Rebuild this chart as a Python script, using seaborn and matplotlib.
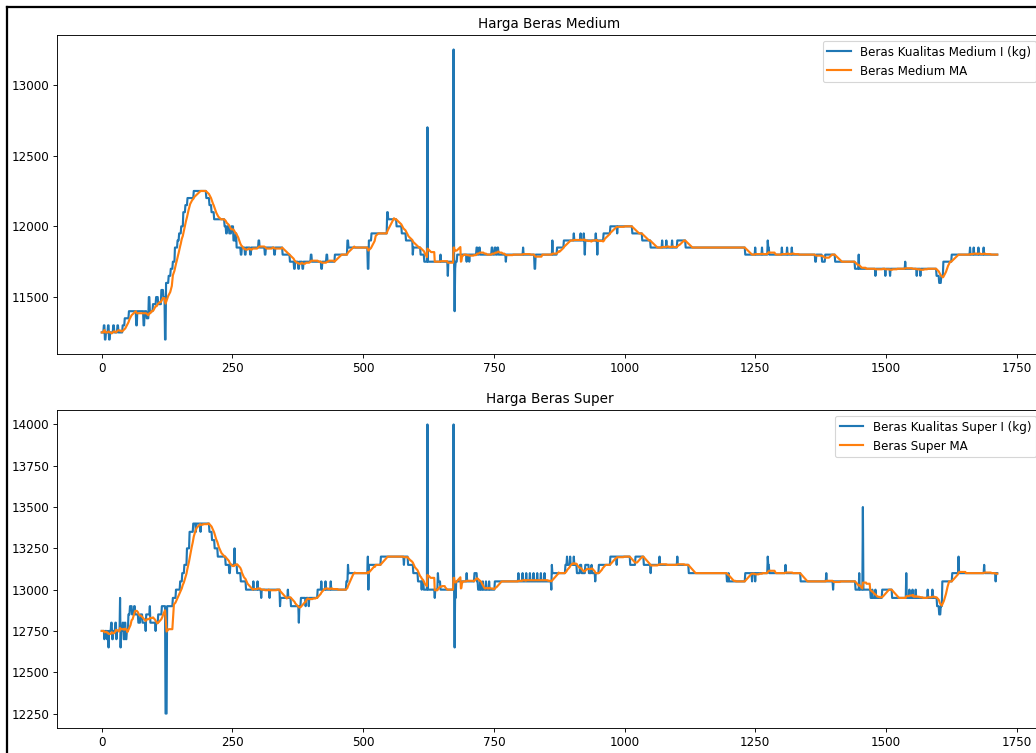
#rice price charts: raw daily price and moving average
import matplotlib
matplotlib.use("Agg")
import matplotlib.pyplot as plt
from matplotlib.lines import Line2D
import seaborn as sns
import numpy as np
import pandas as pd

n_days = 1714
ma_window = 14

#medium rice: index where a price level starts, and the price from there on
medium_start = [0, 4, 6, 8, 12, 14, 16, 22, 24, 30, 32, 40, 44, 52, 66, 68, 80, 82, 86, 90, 92, 98, 104, 108,
                114, 118, 121, 123, 128, 132, 136, 140, 145, 148, 152, 156, 160, 164, 176, 200, 206, 210, 215,
                235, 238, 240, 244, 248, 252, 256, 258, 266, 268, 274, 276, 284, 286, 300, 302, 312, 314, 330,
                332, 346, 360, 368, 370, 376, 378, 384, 386, 400, 402, 420, 422, 430, 432, 446, 470, 472, 509,
                511, 516, 546, 548, 564, 574, 582, 595, 596, 610, 617, 623, 624, 648, 649, 662, 663, 673, 674,
                675, 676, 677, 680, 698, 699, 703, 704, 717, 719, 722, 724, 746, 748, 752, 754, 757, 759, 773,
                774, 806, 807, 828, 830, 862, 863, 871, 884, 903, 904, 916, 917, 922, 923, 924, 925, 945, 946,
                948, 949, 960, 973, 986, 987, 1015, 1034, 1050, 1072, 1073, 1080, 1081, 1091, 1092, 1101, 1117,
                1231, 1250, 1251, 1263, 1264, 1274, 1275, 1277, 1301, 1302, 1311, 1312, 1320, 1321, 1365, 1367,
                1378, 1384, 1403, 1441, 1448, 1449, 1480, 1481, 1499, 1500, 1508, 1509, 1537, 1538, 1559, 1560,
                1566, 1567, 1597, 1602, 1606, 1610, 1626, 1661, 1662, 1668, 1669, 1677, 1678, 1687, 1688]
medium_price = [11250, 11300, 11200, 11250, 11300, 11200, 11250, 11300, 11250, 11300, 11250, 11300, 11350, 11400,
                11300, 11400, 11300, 11400, 11350, 11500, 11400, 11450, 11500, 11450, 11550, 11500, 11200, 11600,
                11650, 11700, 11750, 11850, 11900, 11950, 12000, 12100, 12150, 12200, 12250, 12200, 12150, 12100,
                12050, 12000, 11950, 12000, 11950, 12000, 11900, 11950, 11850, 11800, 11850, 11800, 11850, 11800,
                11850, 11900, 11850, 11800, 11850, 11800, 11850, 11800, 11750, 11700, 11750, 11700, 11750, 11700,
                11750, 11800, 11750, 11700, 11750, 11800, 11750, 11800, 11900, 11850, 11700, 11900, 11950, 12100,
                12050, 12000, 11950, 11900, 11800, 11850, 11800, 11750, 12700, 11750, 11800, 11750, 11650, 11750,
                13250, 11750, 11400, 11700, 11750, 11800, 11750, 11800, 11750, 11800, 11850, 11800, 11850, 11800,
                11850, 11800, 11850, 11800, 11850, 11800, 11750, 11800, 11850, 11800, 11700, 11800, 11900, 11800,
                11850, 11900, 11950, 11900, 11950, 11900, 11950, 11900, 11800, 11900, 11950, 11900, 11800, 11900,
                11950, 12000, 11950, 12000, 11950, 11900, 11850, 11900, 11850, 11900, 11850, 11900, 11850, 11900,
                11850, 11800, 11850, 11800, 11850, 11800, 11900, 11850, 11800, 11850, 11800, 11850, 11800, 11850,
                11800, 11750, 11800, 11750, 11800, 11750, 11700, 11800, 11700, 11650, 11700, 11650, 11700, 11650,
                11700, 11750, 11700, 11650, 11700, 11650, 11700, 11650, 11600, 11650, 11750, 11800, 11850, 11800,
                11850, 11800, 11850, 11800, 11850, 11800]

#super rice, same layout
super_start = [0, 5, 6, 10, 12, 13, 14, 18, 20, 22, 26, 28, 29, 35, 36, 37, 40, 42, 44, 46, 48, 51, 54, 58, 62, 64,
               70, 74, 78, 84, 85, 92, 93, 103, 104, 108, 115, 122, 125, 136, 142, 150, 154, 158, 163, 168, 175,
               180, 181, 189, 190, 206, 211, 216, 222, 237, 244, 246, 254, 255, 259, 266, 276, 290, 291, 298, 299,
               305, 306, 321, 322, 341, 342, 356, 357, 362, 377, 378, 381, 390, 391, 396, 397, 413, 420, 421, 428,
               429, 438, 439, 468, 471, 472, 509, 510, 511, 534, 578, 579, 586, 596, 605, 612, 613, 616, 623, 624,
               637, 638, 643, 644, 648, 673, 674, 675, 676, 677, 678, 698, 699, 713, 718, 720, 724, 725, 729, 730,
               735, 736, 741, 742, 752, 797, 798, 805, 806, 812, 813, 819, 820, 826, 827, 833, 834, 840, 841, 847,
               848, 860, 861, 862, 887, 890, 891, 896, 897, 903, 904, 909, 915, 918, 925, 932, 937, 938, 944, 945,
               951, 973, 985, 986, 1011, 1021, 1037, 1050, 1051, 1067, 1068, 1101, 1102, 1123, 1196, 1199, 1200,
               1231, 1244, 1245, 1250, 1251, 1274, 1275, 1277, 1308, 1309, 1337, 1386, 1387, 1399, 1400, 1442,
               1449, 1450, 1456, 1457, 1471, 1474, 1475, 1480, 1481, 1493, 1512, 1539, 1540, 1545, 1546, 1551,
               1552, 1557, 1558, 1580, 1581, 1589, 1590, 1598, 1602, 1605, 1608, 1627, 1639, 1640, 1688, 1689,
               1710, 1711]
super_price = [12750, 12700, 12750, 12700, 12750, 12650, 12750, 12800, 12700, 12750, 12800, 12700, 12750, 12950,
               12650, 12750, 12800, 12700, 12800, 12700, 12750, 12850, 12900, 12850, 12900, 12850, 12800, 12850,
               12800, 12750, 12850, 12900, 12800, 12750, 12800, 12850, 12900, 12250, 12900, 12950, 13000, 13050,
               13100, 13150, 13250, 13350, 13400, 13350, 13400, 13350, 13400, 13350, 13300, 13250, 13200, 13150,
               13100, 13150, 13250, 13150, 13100, 13050, 13000, 13050, 13000, 13050, 13000, 12950, 13000, 12950,
               13000, 12900, 12950, 13000, 12950, 12900, 12800, 12900, 12950, 12900, 12950, 12900, 12950, 13000,
               13050, 13000, 13050, 13000, 13050, 13000, 13050, 13150, 13100, 13200, 13000, 13150, 13200, 13150,
               13200, 13150, 13100, 13050, 13000, 13050, 13000, 14000, 13000, 12950, 13000, 13100, 13050, 13000,
               14000, 13000, 12650, 13000, 12950, 13050, 13100, 13050, 13100, 13050, 13000, 13050, 13000, 13050,
               13000, 13050, 13000, 13050, 13000, 13050, 13100, 13050, 13100, 13050, 13100, 13050, 13100, 13050,
               13100, 13050, 13100, 13050, 13100, 13050, 13100, 13050, 13000, 13150, 13100, 13150, 13200, 13150,
               13200, 13150, 13200, 13150, 13100, 13150, 13100, 13150, 13100, 13150, 13100, 13050, 13100, 13150,
               13200, 13150, 13200, 13150, 13200, 13150, 13100, 13150, 13200, 13150, 13200, 13150, 13100, 13050,
               13100, 13050, 13100, 13050, 13100, 13050, 13100, 13200, 13150, 13100, 13150, 13100, 13050, 13100,
               13050, 13000, 13050, 13000, 13100, 13000, 13500, 13000, 12950, 13000, 12950, 13000, 12950, 13000,
               12950, 13100, 12950, 13000, 12950, 13000, 12950, 13000, 12950, 13000, 12950, 13000, 12950, 12900,
               12850, 12900, 13050, 13100, 13200, 13100, 13150, 13100, 13050, 13100]

panels = [("Harga Beras Medium", "Beras Kualitas Medium I (kg)", "Beras Medium MA", medium_start, medium_price),
          ("Harga Beras Super", "Beras Kualitas Super I (kg)", "Beras Super MA", super_start, super_price)]


def expand_steps(starts, prices, n):
    """Turns (start index, price) pairs into one price per day."""
    out = np.empty(n)
    ends = list(starts[1:]) + [n]
    for s, e, p in zip(starts, ends, prices):
        out[s:e] = p
    return out


plt.rcParams["xtick.labelsize"] = 10.5
plt.rcParams["ytick.labelsize"] = 10.5
plt.rcParams["legend.fontsize"] = 10.5

fig = plt.figure(figsize=(1036 / 81, 753 / 81), dpi=81)
axes_boxes = [[57 / 1036, 1 - 354 / 753, 985 / 1036, 319 / 753],
              [57 / 1036, 1 - 728 / 753, 985 / 1036, 318 / 753]]

for box, (title, raw_label, ma_label, starts, prices) in zip(axes_boxes, panels):
    ax = fig.add_axes(box)
    df = pd.DataFrame({"day": np.arange(n_days), "price": expand_steps(starts, prices, n_days)})
    #moving average of the daily price
    df["ma"] = df["price"].rolling(ma_window, min_periods=1).mean()
    sns.lineplot(data=df, x="day", y="price", ax=ax, color="C0", lw=1.9, label=raw_label)
    sns.lineplot(data=df, x="day", y="ma", ax=ax, color="C1", lw=1.9, label=ma_label)
    ax.set_title(title, fontsize=12)
    ax.set_xlabel("")
    ax.set_ylabel("")
    ax.set_xticks(np.arange(0, 1751, 250))
    ax.legend(loc="upper right")

#black screenshot frame on the left and top edge
fig.add_artist(Line2D([7 / 1036, 7 / 1036], [0, 1 - 7 / 753], transform=fig.transFigure, color="black", lw=2))
fig.add_artist(Line2D([7 / 1036, 1], [1 - 7 / 753, 1 - 7 / 753], transform=fig.transFigure, color="black", lw=2))

fig.savefig("out.png", dpi=81)
